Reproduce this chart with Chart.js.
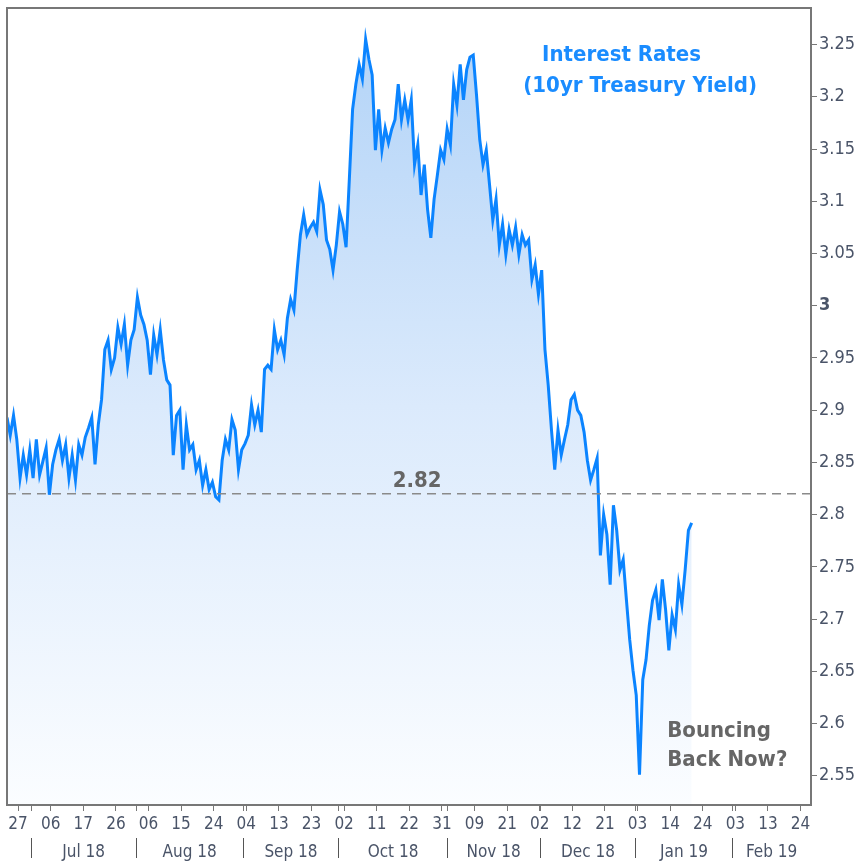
<!DOCTYPE html>
<html>
<head>
<meta charset="utf-8">
<script src="https://cdn.jsdelivr.net/npm/chart.js@4.4.1/dist/chart.umd.min.js"></script>
<style>
html,body{margin:0;padding:0;background:#fff}
#wrap{width:862px;height:862px}
</style>
</head>
<body>
<div id="wrap"><canvas id="c" width="862" height="862"></canvas></div>
<script>
// 10yr treasury yield, one value per bar
const yields = [
  2.893, 2.876, 2.895, 2.872, 2.835, 2.857, 2.838, 2.862, 2.835, 2.872,
  2.838, 2.851, 2.864, 2.819, 2.848, 2.862, 2.872, 2.852, 2.867, 2.835,
  2.857, 2.833, 2.867, 2.857, 2.874, 2.883, 2.893, 2.848, 2.886, 2.910,
  2.958, 2.967, 2.939, 2.950, 2.979, 2.963, 2.982, 2.943,
  2.967, 2.977, 3.008, 2.991, 2.982, 2.967, 2.934, 2.972, 2.953, 2.977,
  2.948, 2.929, 2.924, 2.857, 2.895, 2.900, 2.843, 2.886, 2.862, 2.867,
  2.843, 2.852, 2.828, 2.843, 2.824, 2.831, 2.817, 2.814, 2.852, 2.872,
  2.862, 2.891, 2.881, 2.843, 2.862, 2.868,
  2.876, 2.905, 2.886, 2.900, 2.879, 2.939, 2.943, 2.939, 2.977, 2.958,
  2.967, 2.953, 2.988, 3.006, 2.996, 3.034, 3.068, 3.087, 3.068, 3.075,
  3.080, 3.071, 3.111, 3.097, 3.063, 3.054, 3.034, 3.058, 3.090, 3.078,
  3.056, 3.121, 3.188, 3.212, 3.231,
  3.217, 3.255, 3.236, 3.221, 3.149, 3.188, 3.149, 3.170, 3.156, 3.169,
  3.178, 3.212, 3.178, 3.197, 3.178, 3.197, 3.135, 3.154, 3.106, 3.135,
  3.092, 3.065, 3.102, 3.125, 3.149, 3.140, 3.169, 3.154, 3.212, 3.192,
  3.231, 3.197, 3.226, 3.238, 3.240, 3.202,
  3.159, 3.135, 3.149, 3.116, 3.082, 3.102, 3.058, 3.078, 3.049, 3.073,
  3.058, 3.075, 3.049, 3.068, 3.058, 3.063, 3.025, 3.039, 3.011, 3.034,
  2.958, 2.924, 2.881, 2.843, 2.881, 2.857, 2.872, 2.886, 2.910, 2.915,
  2.900, 2.895, 2.879, 2.852, 2.833,
  2.843, 2.854, 2.761, 2.800, 2.781, 2.733, 2.809, 2.785, 2.747, 2.757,
  2.718, 2.680, 2.651, 2.627, 2.551, 2.642, 2.661, 2.694, 2.718, 2.728,
  2.699, 2.738, 2.709, 2.670, 2.704, 2.690, 2.733, 2.714, 2.747, 2.785,
  2.792
];
const dayLabels = ['27','06','17','26','06','15','24','04','13','23','02','11','22',
  '31','09','21','02','12','21','03','14','24','03','13','24'];
const monthLabels = ['Jul 18','Aug 18','Sep 18','Oct 18','Nov 18','Dec 18','Jan 19','Feb 19'];
// month starts, in bars
const monthStarts = [7.4, 39.6, 72.4, 101.8, 135.0, 163.5, 192.9, 222.4];
const yTicks = [2.55,2.6,2.65,2.7,2.75,2.8,2.85,2.9,2.95,3,3.05,3.1,3.15,3.2,3.25];
const refLevel = 2.82;

const firstDayTick = 3.4, barsPerTick = 10;
const xMax = 246.6, yMin = 2.522, yMax = 3.285;

const FONT = "'DejaVu Sans Condensed', 'DejaVu Sans', sans-serif";
const tickColor = '#4a5468';
const axisGray = '#777';
Chart.defaults.font.family = FONT;

const dayTicks = ()=>{
  const t = dayLabels.map((l,i)=>({value:firstDayTick+i*barsPerTick, lbl:l}));
  monthStarts.forEach(v=>t.push({value:v, lbl:''}));
  return t.sort((a,b)=>a.value-b.value);
};
const monthTicks = ()=>{
  const t = monthStarts.map(v=>({value:v, lbl:'', edge:true}));
  monthLabels.forEach((l,i)=>{
    const end = i+1<monthStarts.length ? monthStarts[i+1] : xMax;
    t.push({value:(monthStarts[i]+end)/2, lbl:l});
  });
  return t.sort((a,b)=>a.value-b.value);
};

const notes = {
  id:'notes',
  afterDatasetsDraw(chart){
    const {ctx, chartArea:a, scales:{x,y}} = chart;
    ctx.save();
    ctx.strokeStyle = axisGray; ctx.lineWidth = 2;
    ctx.strokeRect(a.left, a.top, a.right-a.left, a.bottom-a.top);
    ctx.textBaseline = 'middle';
    ctx.textAlign = 'center';
    ctx.fillStyle = '#1a8cff';
    ctx.font = 'bold 22px '+FONT;
    ctx.fillText('Interest Rates', x.getPixelForValue(188.5), y.getPixelForValue(3.240));
    ctx.fillText('(10yr Treasury Yield)', x.getPixelForValue(194.2), y.getPixelForValue(3.210));
    ctx.fillStyle = '#666';
    ctx.fillText(refLevel.toFixed(2), x.getPixelForValue(125.8), y.getPixelForValue(2.832));
    ctx.textAlign = 'left';
    ctx.font = 'bold 22px '+FONT;
    ctx.fillText('Bouncing', x.getPixelForValue(202.5), y.getPixelForValue(2.593));
    ctx.fillText('Back Now?', x.getPixelForValue(202.5), y.getPixelForValue(2.565));
    ctx.restore();
  }
};

new Chart(document.getElementById('c'), {
  type:'line',
  data:{datasets:[
    {
      data: yields.map((v,i)=>({x:i, y:v})),
      borderColor:'#0b84ff', borderWidth:3, pointRadius:0, tension:0,
      fill:'start', order:1,
      backgroundColor:(c)=>{
        const a = c.chart.chartArea;
        if(!a) return 'rgba(0,0,0,0)';
        const g = c.chart.ctx.createLinearGradient(0,a.top,0,a.bottom);
        g.addColorStop(0,'#b0d2f7');
        g.addColorStop(0.5,'#dbeafc');
        g.addColorStop(1,'#fbfdff');
        return g;
      }
    },
    {
      data:[{x:0,y:refLevel},{x:xMax,y:refLevel}],
      borderColor:'#8a8a8a', borderWidth:1.5, borderDash:[9,6],
      pointRadius:0, fill:false, order:0
    }
  ]},
  options:{
    responsive:false, animation:false,
    layout:{padding:{left:7, top:8, right:0, bottom:0}},
    plugins:{legend:{display:false}, tooltip:{enabled:false}},
    scales:{
      x:{type:'linear', position:'bottom', min:0, max:xMax,
        grid:{drawOnChartArea:false, tickLength:6, color:axisGray},
        border:{display:false},
        ticks:{autoSkip:false, maxRotation:0, padding:3, color:tickColor, font:{size:17},
          callback:(v,i,t)=>t[i].lbl},
        afterBuildTicks:(ax)=>{ ax.ticks = dayTicks(); },
        afterFit:(ax)=>{ ax.height = 33; }
      },
      x2:{type:'linear', position:'bottom', min:0, max:xMax,
        grid:{drawOnChartArea:false, tickLength:20,
          color:(c)=> c.tick && c.tick.edge ? '#555' : 'rgba(0,0,0,0)'},
        border:{display:false},
        ticks:{autoSkip:false, maxRotation:0, padding:-16, color:tickColor, font:{size:17},
          callback:(v,i,t)=>t[i].lbl},
        afterBuildTicks:(ax)=>{ ax.ticks = monthTicks(); },
        afterFit:(ax)=>{ ax.height = 24; }
      },
      y:{type:'linear', position:'right', min:yMin, max:yMax,
        grid:{drawOnChartArea:false, tickLength:6, color:axisGray},
        border:{display:false},
        ticks:{padding:2, color:tickColor,
          font:(c)=>({size:18, weight: c.tick && c.tick.value===3 ? 'bold' : 'normal'}),
          callback:(v)=>String(+v.toFixed(2))},
        afterBuildTicks:(ax)=>{ ax.ticks = yTicks.map(v=>({value:v})); },
        afterFit:(ax)=>{ ax.width = 51; ax.paddingTop = 0; ax.paddingBottom = 0; }
      }
    }
  },
  plugins:[notes]
});
</script>
</body>
</html>
